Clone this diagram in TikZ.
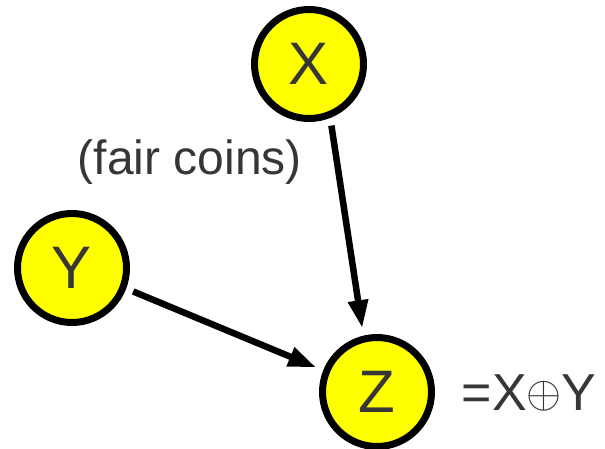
\documentclass[tikz,border=0pt]{standalone}
\usepackage{fontspec}
\setmainfont{Liberation Sans}
\usepackage{xcolor}
\usetikzlibrary{arrows.meta, positioning, shapes.geometric}
\definecolor{txtgray}{HTML}{363636}
\definecolor{coinyellow}{HTML}{FFFF00}

\begin{document}
\begin{tikzpicture}[
    x=1pt, y=-1pt,
    var/.style={draw, circle, line width=7pt, fill=coinyellow, minimum size=109pt, inner sep=0pt, outer sep=11pt, text=txtgray, font=\fontsize{60}{60}\selectfont},
    note/.style={text=txtgray, inner sep=0pt},
    flow/.style={-{Triangle[length=28pt, width=19pt]}, line width=6.5pt}
]
\useasboundingbox (0,0) rectangle (605,448);

\node[var] (x) at (309,64) {X};
\node[var] (y) at (72,268) {Y};
\node[var] (z) at (377,392) {Z};

\node[note, font=\fontsize{48}{48}\selectfont] (fair) at (190,162) {(fair coins)};
\node[note, font=\fontsize{52}{52}\selectfont] (xor) at (529,393) {=X\raisebox{3.5pt}{\resizebox{35pt}{!}{$\oplus$}}Y};

\draw[flow] (x.-70) -- (z.103);
\draw[flow] (y.-21) -- (z.158);
\end{tikzpicture}
\end{document}
